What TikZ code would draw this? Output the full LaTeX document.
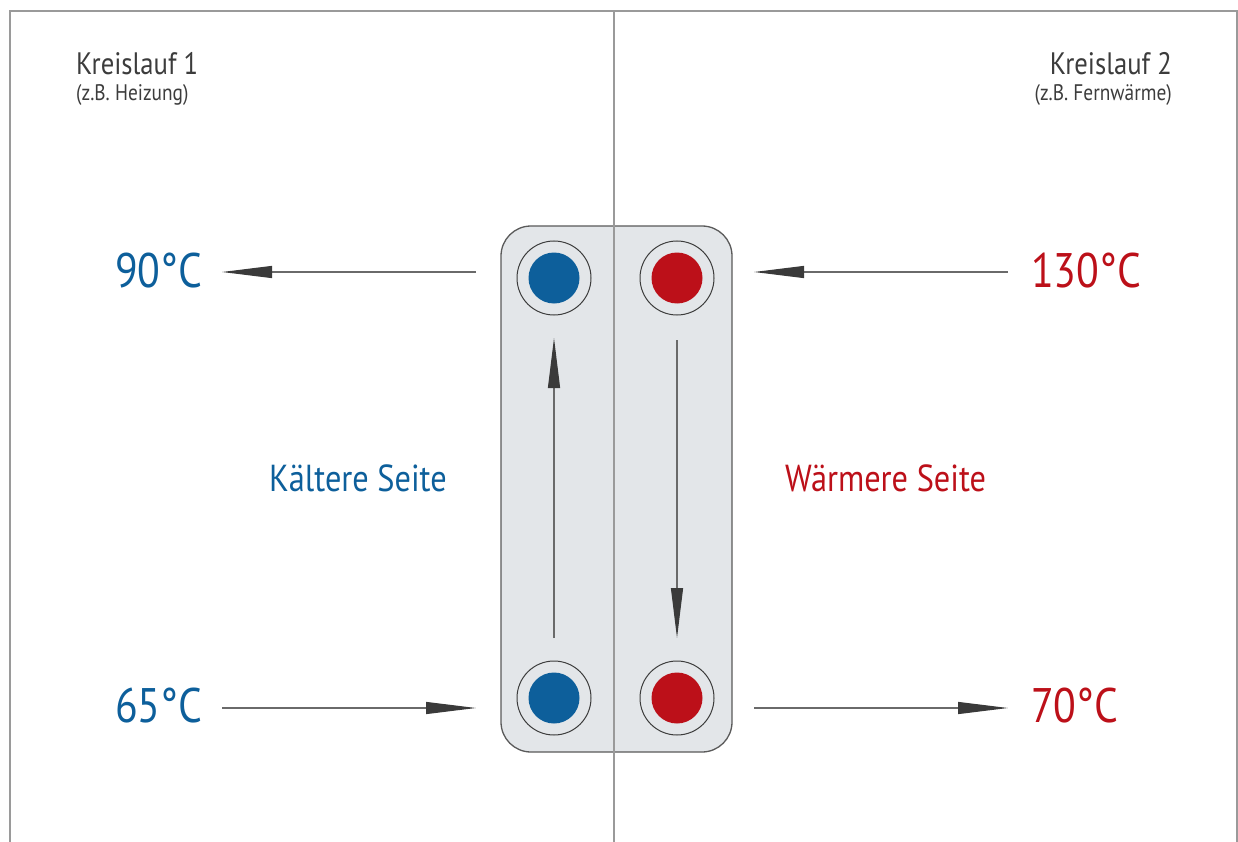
\documentclass[tikz,border=0pt]{standalone}
\usepackage{fontspec}
\setmainfont{PT Sans}[FakeStretch=0.86]
\usetikzlibrary{arrows.meta}
\definecolor{hblue}{HTML}{0D5F9B}
\definecolor{hred}{HTML}{BC1019}
\definecolor{txtgray}{HTML}{3C3C3C}
\definecolor{framegray}{HTML}{9A9A9A}
\definecolor{boxfill}{HTML}{E3E6E9}
\definecolor{boxline}{HTML}{5A5A5A}
\definecolor{shaft}{HTML}{6A6A6A}
\definecolor{tipdark}{HTML}{3A3A3A}
\tikzset{
  frameline/.style={draw=framegray, line width=1.4pt},
  plate/.style={draw=boxline, fill=boxfill, line width=1.3pt, rounded corners=30pt,
    minimum width=231pt, minimum height=526pt, inner sep=0pt},
  ring/.style={circle, draw=txtgray, line width=1pt, minimum size=74pt, inner sep=0pt},
  dotb/.style={circle, fill=hblue, minimum size=51pt, inner sep=0pt},
  dotr/.style={circle, fill=hred, minimum size=51pt, inner sep=0pt},
  flow/.style={draw=shaft, line width=1.2pt, -{Triangle[length=50pt,width=12pt,color=tipdark]}},
  temp/.style={font=\fontsize{48.5}{50}\selectfont, inner sep=0pt},
  side/.style={font=\fontsize{37.6}{40}\selectfont, inner sep=0pt},
  title/.style={font=\fontsize{31}{33}\selectfont, text=txtgray, inner sep=0pt},
  sub/.style={font=\fontsize{22.5}{24}\selectfont, text=txtgray, inner sep=0pt}
}
\begin{document}
\begin{tikzpicture}[x=1pt,y=-1pt]
\useasboundingbox (0,0) rectangle (1238,842);
% frame
\draw[frameline] (10,842) -- (10,11) -- (1237,11) -- (1237,842);
% plate
\node[plate] (box) at (616.5,489) {};
\draw[frameline] (614,11) -- (614,842);
% ports
\node[ring] (p1) at (554,278) {};
\node[dotb] (d1) at (p1) {};
\node[ring] (p2) at (677,278) {};
\node[dotr] (d2) at (p2) {};
\node[ring] (p3) at (554,698) {};
\node[dotb] (d3) at (p3) {};
\node[ring] (p4) at (677,698) {};
\node[dotr] (d4) at (p4) {};
% titles
\node[title, anchor=base west] (k1) at (76,75) {Kreislauf 1};
\node[sub, anchor=base west] (s1) at (76,101) {(z.B. Heizung)};
\node[title, anchor=base east] (k2) at (1172,75) {Kreislauf 2};
\node[sub, anchor=base east] (s2) at (1172,101) {(z.B. Fernwärme)};
% temperatures
\node[temp, text=hblue, anchor=base west] (t90) at (115,287) {90°C};
\node[temp, text=hblue, anchor=base west] (t65) at (115,722) {65°C};
\node[temp, text=hred, anchor=base west] (t130) at (1031,287) {130°C};
\node[temp, text=hred, anchor=base west] (t70) at (1031,722) {70°C};
% sides
\node[side, text=hblue, anchor=base west] (ks) at (269,491) {Kältere Seite};
\node[side, text=hred, anchor=base west] (ws) at (785,491) {Wärmere Seite};
% arrow end points
\coordinate (a1s) at (476,272);
\coordinate (a1e) at (222,272);
\coordinate (a2s) at (1008,272);
\coordinate (a2e) at (754,272);
\coordinate (a3s) at (222,708);
\coordinate (a3e) at (476,708);
\coordinate (a4s) at (754,708);
\coordinate (a4e) at (1008,708);
\coordinate (v1s) at (554,638);
\coordinate (v1e) at (554,338);
\coordinate (v2s) at (677,340);
\coordinate (v2e) at (677,638);
\draw[flow] (a1s) -- (a1e);
\draw[flow] (a2s) -- (a2e);
\draw[flow] (a3s) -- (a3e);
\draw[flow] (a4s) -- (a4e);
\draw[flow] (v1s) -- (v1e);
\draw[flow] (v2s) -- (v2e);
\end{tikzpicture}
\end{document}
